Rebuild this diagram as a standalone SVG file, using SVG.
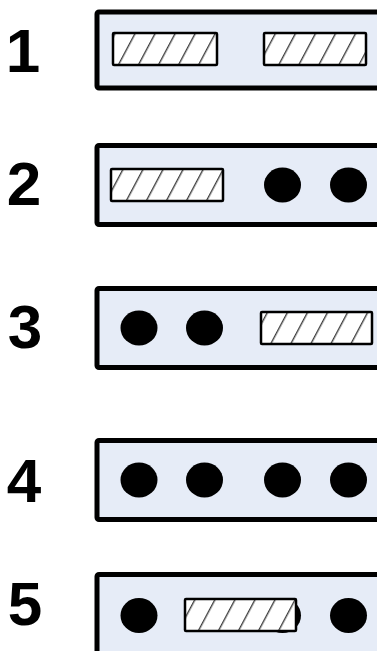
<svg xmlns="http://www.w3.org/2000/svg" width="377" height="651" viewBox="0 0 377 651">
<defs>
<pattern id="hatch" patternUnits="userSpaceOnUse" width="17.7" height="20" patternTransform="translate(117,66) rotate(28)">
<rect width="17.7" height="20" fill="#ffffff"/>
<line x1="0.7" y1="0" x2="0.7" y2="20" stroke="#333333" stroke-width="1.3"/>
</pattern>
<style>
.lbl{font-family:"Liberation Sans",Arial,sans-serif;font-weight:bold;font-size:62px;fill:#000;text-anchor:middle}
.box{fill:#E6ECF7;stroke:#000;stroke-width:5}
.hat{fill:url(#hatch);stroke:#000;stroke-width:2.5}
.dot{fill:#000}
</style>
</defs>
<g id="row1">
<text class="lbl" x="23" y="72">1</text>
<rect class="box" x="97" y="12" width="300" height="76" rx="2"/>
<rect class="hat" x="113" y="33" width="104" height="32" rx="1"/>
<rect class="hat" x="264" y="33" width="102" height="32" rx="1"/>
</g>
<g id="row2">
<text class="lbl" x="24" y="205">2</text>
<rect class="box" x="97" y="145.5" width="300" height="79" rx="2"/>
<rect class="hat" x="111" y="169" width="112" height="32" rx="1"/>
<ellipse class="dot" cx="282.5" cy="185" rx="18.5" ry="17.5"/>
<ellipse class="dot" cx="348.5" cy="185" rx="18.5" ry="17.5"/>
</g>
<g id="row3">
<text class="lbl" x="25" y="348">3</text>
<rect class="box" x="97" y="288.5" width="300" height="79" rx="2"/>
<ellipse class="dot" cx="139" cy="328" rx="18.5" ry="17.5"/>
<ellipse class="dot" cx="204.5" cy="328" rx="18.5" ry="17.5"/>
<rect class="hat" x="261" y="312" width="111" height="32" rx="1"/>
</g>
<g id="row4">
<text class="lbl" x="24" y="502">4</text>
<rect class="box" x="97" y="440.5" width="300" height="79" rx="2"/>
<ellipse class="dot" cx="139" cy="480" rx="18.5" ry="17.5"/>
<ellipse class="dot" cx="204.5" cy="480" rx="18.5" ry="17.5"/>
<ellipse class="dot" cx="282.5" cy="480" rx="18.5" ry="17.5"/>
<ellipse class="dot" cx="348.5" cy="480" rx="18.5" ry="17.5"/>
</g>
<g id="row5">
<text class="lbl" x="25" y="625">5</text>
<rect class="box" x="97" y="574.5" width="300" height="100" rx="2"/>
<ellipse class="dot" cx="139" cy="615.5" rx="18.5" ry="17.5"/>
<ellipse class="dot" cx="282.5" cy="615.5" rx="18.5" ry="17.5"/>
<ellipse class="dot" cx="348.5" cy="615.5" rx="18.5" ry="17.5"/>
<rect class="hat" x="185" y="599" width="111" height="32" rx="1"/>
</g>
<g id="connectors"/>
</svg>
